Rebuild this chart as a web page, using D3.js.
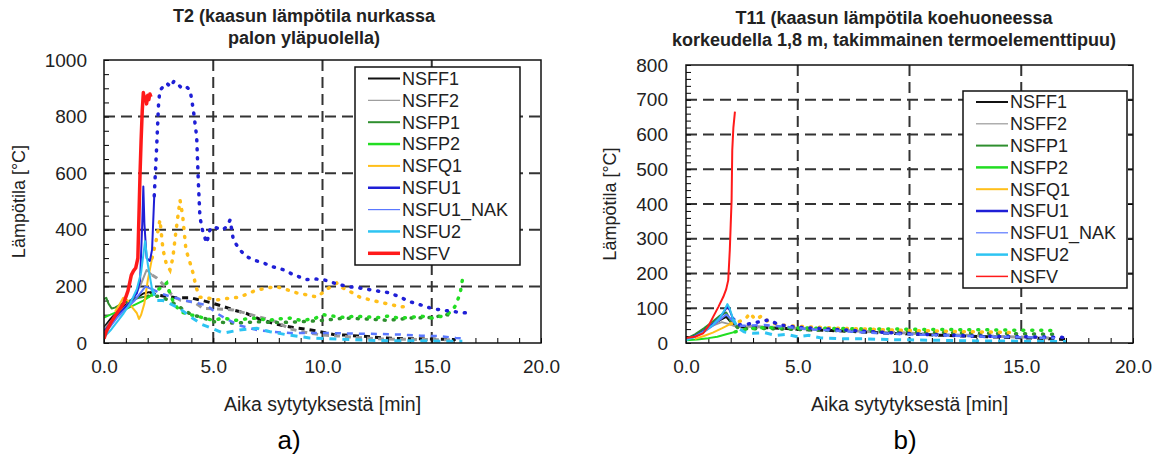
<!DOCTYPE html>
<html><head><meta charset="utf-8">
<script src="https://cdn.jsdelivr.net/npm/d3@7"></script>
<style>
body{margin:0;background:#fff}
svg{display:block}
text{font-family:"Liberation Sans",Arial,sans-serif;fill:#222}
</style>
</head><body>
<svg id="c" width="1161" height="458"></svg>
<script>
// ---------- DATA ----------
const seriesNames = ["NSFF1","NSFF2","NSFP1","NSFP2","NSFQ1","NSFU1","NSFU1_NAK","NSFU2","NSFV"];
const xTicks = [0, 5, 10, 15, 20];
const yTicksT2 = [0, 200, 400, 600, 800, 1000];
const yTicksT11 = [0, 100, 200, 300, 400, 500, 600, 700, 800];
const titleT2 = ["T2 (kaasun lämpötila nurkassa", "palon yläpuolella)"];
const titleT11 = ["T11 (kaasun lämpötila koehuoneessa", "korkeudella 1,8 m, takimmainen termoelementtipuu)"];
const xTitle = "Aika sytytyksestä [min]";
const yTitle = "Lämpötila [°C]";
const panelLabels = ["a)", "b)"];

// T2 series: [time min, temperature °C]
const t2_NSFF1 = [[0,55],[0.3,85],[0.6,110],[1.0,135],[1.4,155],[1.8,175],[2.1,180],[2.41,170],[2.8,165],[3.3,160],[3.94,160],[4.5,150],[5.0,140],[5.5,128],[6.0,115],[6.5,105],[7.1,85],[7.9,66],[8.66,55],[9.3,48],[9.9,40],[10.5,30],[11.0,28],[11.6,25],[12.2,22],[12.8,18],[13.5,16],[14.2,15],[15.0,14],[15.6,13],[16.1,12]];
const t2_NSFF2 = [[0,50],[0.3,75],[0.6,100],[1.0,130],[1.4,165],[1.7,210],[1.95,258],[2.2,240],[2.41,230],[2.8,200],[3.1,170],[3.48,152],[4.1,145],[4.55,122],[5.2,120],[5.9,117],[6.5,105],[7.1,92],[7.9,75],[8.5,50],[9.2,38],[10.0,28],[10.7,25],[11.5,20],[12.3,16],[13.0,14],[14.0,13],[15.0,12],[16.0,11]];
const t2_NSFP1 = [[0,155],[0.1,160],[0.2,140],[0.35,122],[0.5,125],[0.8,138],[1.2,150],[1.6,160],[2.0,165],[2.5,165],[3.0,150],[3.5,125],[4.0,100],[4.5,90],[5.0,75],[6.0,70],[7.0,75],[8.0,72],[9.0,75],[10.0,80],[11.0,88],[12.0,85],[13.0,80],[14.0,88],[15.0,90],[15.7,100],[16.0,95]];
const t2_NSFP2 = [[0,90],[0.3,100],[0.6,110],[1.0,120],[1.4,135],[1.8,150],[2.2,170],[2.5,190],[2.87,212],[3.0,180],[3.2,140],[3.5,110],[3.94,100],[4.5,90],[5.0,80],[5.46,88],[6.0,80],[6.5,85],[6.99,88],[7.5,80],[8.0,85],[8.5,88],[9.0,80],[9.6,85],[10.04,100],[10.5,95],[11.0,90],[11.5,95],[12.0,92],[12.6,90],[13.0,95],[13.5,88],[14.0,90],[14.5,95],[15.0,88],[15.5,95],[15.9,110],[16.1,134],[16.3,176],[16.4,222]];
const t2_NSFQ1 = [[0.5,110],[0.7,135],[0.88,160],[1.1,150],[1.3,125],[1.5,106],[1.6,85],[1.7,100],[1.85,140],[2.0,220],[2.2,300],[2.41,370],[2.56,435],[2.7,330],[2.85,280],[3.02,258],[3.15,300],[3.3,400],[3.48,505],[3.6,450],[3.75,330],[3.94,283],[4.1,240],[4.2,200],[4.39,162],[4.7,160],[5.16,152],[5.7,158],[6.22,162],[6.6,175],[6.99,187],[7.5,195],[7.9,199],[8.3,190],[8.82,177],[9.3,170],[9.75,162],[10.2,190],[10.65,212],[10.8,199],[11.2,185],[11.7,162],[12.3,150],[12.8,141],[13.2,135],[13.5,127],[13.7,128]];
const t2_NSFU1 = [[0,40],[0.3,70],[0.6,95],[0.9,120],[1.2,145],[1.5,175],[1.65,220],[1.75,420],[1.8,553],[1.85,420],[1.95,300],[2.1,290],[2.2,330],[2.3,520],[2.41,693],[2.5,850],[2.56,893],[2.7,905],[2.87,918],[3.05,905],[3.2,925],[3.33,918],[3.5,905],[3.7,910],[3.94,894],[4.09,823],[4.24,730],[4.32,565],[4.39,446],[4.5,400],[4.7,353],[4.85,400],[5.0,412],[5.2,405],[5.46,400],[5.65,415],[5.77,435],[5.92,365],[6.2,330],[6.53,305],[6.9,292],[7.29,283],[7.7,270],[8.2,259],[8.7,240],[9.28,224],[9.7,226],[10.04,224],[10.6,210],[11.1,200],[11.7,194],[12.4,185],[13.1,177],[13.6,160],[14.0,146],[14.6,132],[15.0,122],[15.4,117],[16.1,110],[16.6,106],[16.8,104]];
const t2_NSFU1_NAK = [[0,35],[0.3,60],[0.6,90],[1.0,120],[1.4,150],[1.7,180],[1.9,200],[2.2,190],[2.6,175],[3.0,165],[3.5,155],[4.0,145],[4.7,134],[5.16,105],[5.6,85],[6.2,62],[7.0,46],[7.7,40],[8.5,35],[9.3,35],[10.5,35],[11.5,33],[12.6,32],[13.5,30],[14.5,26],[15.4,24],[16.1,18],[16.6,16]];
const t2_NSFU2 = [[0,20],[0.3,45],[0.6,75],[0.9,105],[1.2,140],[1.5,190],[1.7,250],[1.88,360],[2.0,280],[2.2,190],[2.4,150],[2.7,150],[3.0,140],[3.5,120],[4.0,90],[4.5,65],[4.93,52],[5.46,35],[6.2,46],[7.0,52],[7.6,40],[8.3,30],[9.4,18],[10.3,15],[11.2,12],[12.0,10],[13.0,8],[14.0,8],[15.0,7],[16.0,6],[16.4,6]];
const t2_NSFV = [[0,15],[0.1,40],[0.3,70],[0.5,95],[0.7,118],[0.9,140],[1.1,185],[1.25,240],[1.35,255],[1.45,265],[1.55,300],[1.6,450],[1.65,600],[1.7,720],[1.75,820],[1.8,885],[1.85,860],[1.9,870],[1.95,845],[2.0,875],[2.05,860],[2.1,880],[2.15,870]];

// T11 series
const t11_NSFF1 = [[0,10],[0.4,20],[0.8,35],[1.2,52],[1.5,65],[1.8,75],[2.0,60],[2.3,47],[2.8,45],[3.5,44],[4.5,42],[5.5,38],[6.5,36],[7.5,33],[8.5,30],[9.5,27],[10.5,25],[11.5,22],[12.5,20],[13.5,18],[14.5,16],[15.5,14],[16.3,12],[17.0,10]];
const t11_NSFF2 = [[0,12],[0.4,22],[0.8,36],[1.2,50],[1.6,60],[1.9,55],[2.2,48],[2.8,48],[3.5,46],[4.5,44],[5.5,40],[6.5,38],[7.5,35],[8.5,32],[9.5,30],[10.5,27],[11.5,24],[12.5,22],[13.5,20],[14.5,18],[15.5,16],[16.5,14]];
const t11_NSFP1 = [[0,12],[0.4,25],[0.8,42],[1.2,62],[1.5,78],[1.8,88],[2.0,65],[2.3,45],[2.8,40],[3.5,42],[4.5,40],[5.5,38],[6.5,36],[7.5,35],[8.5,33],[9.5,32],[10.5,31],[11.5,30],[12.5,29],[13.5,28],[14.5,27],[15.5,26],[16.5,25]];
const t11_NSFP2 = [[0,8],[0.5,10],[1.0,14],[1.4,18],[1.8,25],[2.2,32],[2.6,38],[3.0,42],[3.5,44],[4.5,44],[5.5,43],[6.5,42],[7.5,41],[8.5,40],[9.5,40],[10.5,39],[11.5,39],[12.5,38],[13.5,38],[14.5,37],[15.5,37],[16.5,36]];
const t11_NSFQ1 = [[0.4,12],[0.8,20],[1.2,30],[1.6,42],[2.0,55],[2.4,62],[2.7,72],[2.86,86],[3.1,68],[3.4,78],[3.7,60],[4.2,52],[5.0,48],[6.0,45],[7.0,42],[8.0,40],[9.0,38],[10.0,36],[11.0,35],[12.0,33],[13.0,32],[14.0,31],[14.6,30]];
const t11_NSFU1 = [[0,10],[0.4,20],[0.8,35],[1.2,55],[1.5,72],[1.7,90],[1.85,105],[1.95,95],[2.1,70],[2.4,52],[2.8,55],[3.2,60],[3.68,66],[4.2,52],[5.0,45],[6.0,42],[7.0,38],[8.0,34],[9.0,30],[10.0,27],[11.0,24],[12.0,22],[13.0,20],[14.0,19],[15.0,18],[16.0,17],[17.0,16]];
const t11_NSFU1_NAK = [[0,10],[0.4,18],[0.8,32],[1.2,50],[1.5,66],[1.8,82],[2.0,70],[2.3,50],[2.8,50],[3.5,52],[4.5,46],[5.5,40],[6.5,36],[7.5,32],[8.5,29],[9.5,26],[10.5,24],[11.5,22],[12.5,20],[13.5,18],[14.5,17],[15.5,16],[16.5,14]];
const t11_NSFU2 = [[0,8],[0.4,18],[0.8,32],[1.2,52],[1.5,72],[1.7,92],[1.85,112],[1.95,100],[2.1,70],[2.3,45],[2.6,32],[3.0,28],[3.5,30],[4.0,22],[4.5,25],[5.0,18],[5.5,22],[6.0,15],[7.0,12],[8.0,12],[9.0,10],[10.0,9],[11.0,8],[12.0,7],[13.0,6],[14.0,6],[15.0,5],[16.0,5],[17.0,4]];
const t11_NSFV = [[0,14],[0.4,18],[0.77,28],[1.0,48],[1.22,76],[1.45,104],[1.67,133],[1.8,155],[1.89,181],[1.96,268],[2.0,340],[2.04,411],[2.07,555],[2.12,620],[2.19,666]];

const dataT2 = {NSFF1:t2_NSFF1,NSFF2:t2_NSFF2,NSFP1:t2_NSFP1,NSFP2:t2_NSFP2,NSFQ1:t2_NSFQ1,NSFU1:t2_NSFU1,NSFU1_NAK:t2_NSFU1_NAK,NSFU2:t2_NSFU2,NSFV:t2_NSFV};
const dataT11 = {NSFF1:t11_NSFF1,NSFF2:t11_NSFF2,NSFP1:t11_NSFP1,NSFP2:t11_NSFP2,NSFQ1:t11_NSFQ1,NSFU1:t11_NSFU1,NSFU1_NAK:t11_NSFU1_NAK,NSFU2:t11_NSFU2,NSFV:t11_NSFV};

// ---------- STYLES ----------
const colors = {NSFF1:"#111111",NSFF2:"#9a9a9a",NSFP1:"#2f8f2f",NSFP2:"#22dd22",NSFQ1:"#ffbf1a",NSFU1:"#1f1fd6",NSFU1_NAK:"#5a78ff",NSFU2:"#2ec4f2",NSFV:"#ff1a1a"};
const tailStyle = {
  NSFF1:{dash:"6,5",w:3,cap:"butt"}, NSFF2:{dash:"6,5",w:3,cap:"butt"},
  NSFP1:{dash:"1,8",w:3.5,cap:"round"}, NSFP2:{dash:"1,8",w:3.5,cap:"round"},
  NSFQ1:{dash:"1,8",w:3.5,cap:"round"}, NSFU1:{dash:"1,8",w:3.5,cap:"round"},
  NSFU1_NAK:{dash:"6,6",w:2.5,cap:"butt"}, NSFU2:{dash:"7,6",w:3,cap:"butt"},
  NSFV:{dash:null,w:3,cap:"round"}
};

const svg = d3.select("#c");

function drawChart(cfg) {
  const x = d3.scaleLinear().domain([0,20]).range([cfg.left, cfg.right]);
  const y = d3.scaleLinear().domain([0,cfg.yMax]).range([cfg.bottom, cfg.top]);
  const g = svg.append("g");
  const id = "clip" + cfg.key;
  svg.append("clipPath").attr("id", id).append("rect")
    .attr("x", cfg.left).attr("y", cfg.top).attr("width", cfg.right-cfg.left).attr("height", cfg.bottom-cfg.top);

  // gridlines
  const gy = cfg.yTicks.filter(v => v>0 && v<cfg.yMax);
  g.selectAll(".gy").data(gy).join("line")
    .attr("x1", cfg.left).attr("x2", cfg.right).attr("y1", d=>y(d)).attr("y2", d=>y(d))
    .attr("stroke","#333").attr("stroke-width",2).attr("stroke-dasharray","11,6");
  g.selectAll(".gx").data(xTicks.filter(v=>v>0&&v<20)).join("line")
    .attr("y1", cfg.top).attr("y2", cfg.bottom).attr("x1", d=>x(d)).attr("x2", d=>x(d))
    .attr("stroke","#333").attr("stroke-width",2).attr("stroke-dasharray","11,6");

  // minor ticks
  const yMinor = d3.range(0, cfg.yMax+0.001, cfg.yMinorStep);
  g.append("g").attr("transform",`translate(${cfg.left},0)`)
    .call(d3.axisLeft(y).tickValues(yMinor).tickSize(-5).tickFormat(""))
    .call(s=>s.select(".domain").remove());
  g.append("g").attr("transform",`translate(0,${cfg.bottom})`)
    .call(d3.axisBottom(x).tickValues(d3.range(0,21,1)).tickSize(-5).tickFormat(""))
    .call(s=>s.select(".domain").remove());
  if (cfg.rightTicks) {
    g.append("g").attr("transform",`translate(${cfg.right},0)`)
      .call(d3.axisRight(y).tickValues(cfg.yTicks).tickSize(-5).tickFormat(""))
      .call(s=>s.select(".domain").remove());
  }
  // major labels
  const ya = g.append("g").attr("transform",`translate(${cfg.left},0)`)
    .call(d3.axisLeft(y).tickValues(cfg.yTicks).tickSize(0).tickPadding(cfg.left - cfg.yLabelRight).tickFormat(d3.format("d")));
  ya.select(".domain").remove();
  ya.selectAll("text").style("font-size","19px").attr("fill","#222");
  const xa = g.append("g").attr("transform",`translate(0,${cfg.bottom})`)
    .call(d3.axisBottom(x).tickValues(xTicks).tickSize(0).tickPadding(17).tickFormat(d3.format(".1f")));
  xa.select(".domain").remove();
  xa.selectAll("text").style("font-size","19px").attr("fill","#222");

  // data
  const line = d3.line().x(d=>x(d[0])).y(d=>y(d[1]));
  const dg = g.append("g").attr("clip-path",`url(#${id})`);
  seriesNames.forEach(name => {
    const pts = cfg.data[name];
    const st = tailStyle[name];
    const col = colors[name];
    if (name === "NSFV") {
      dg.append("path").attr("d", line(pts)).attr("fill","none").attr("stroke",col)
        .attr("stroke-width", cfg.redWidth).attr("stroke-linejoin","round");
      return;
    }
    const head = pts.filter(p => p[0] <= cfg.split);
    const tail = pts.filter(p => p[0] >= (head.length ? head[head.length-1][0] : 0));
    if (head.length > 1) {
      dg.append("path").attr("d", line(head)).attr("fill","none").attr("stroke",col)
        .attr("stroke-width",2).attr("stroke-linejoin","round");
    }
    if (tail.length > 1) {
      dg.append("path").attr("d", line(tail)).attr("fill","none").attr("stroke",col)
        .attr("stroke-width",st.w).attr("stroke-dasharray",st.dash).attr("stroke-linecap",st.cap);
    }
  });

  // frame
  g.append("rect").attr("x",cfg.left).attr("y",cfg.top).attr("width",cfg.right-cfg.left).attr("height",cfg.bottom-cfg.top)
    .attr("fill","none").attr("stroke","#111").attr("stroke-width",1.5);

  // legend
  const L = cfg.legend;
  const lg = g.append("g");
  lg.append("rect").attr("x",L.x).attr("y",L.y).attr("width",L.w).attr("height",L.h)
    .attr("fill","#fff").attr("stroke","#111").attr("stroke-width",1.5);
  seriesNames.forEach((name,i) => {
    const yy = L.y + L.first + i*L.step;
    lg.append("line").attr("x1",L.x+13).attr("x2",L.x+45).attr("y1",yy).attr("y2",yy)
      .attr("stroke",colors[name]).attr("stroke-width",cfg.legendWidths[name]);
    lg.append("text").attr("x",L.x+47).attr("y",yy).attr("dy","0.35em")
      .style("font-size","18px").text(name);
  });

  // titles
  cfg.title.forEach((t,i) => {
    g.append("text").attr("x",cfg.titleX).attr("y",cfg.titleY + i*cfg.titleStep)
      .attr("text-anchor","middle").style("font-size","18px").style("font-weight","bold").text(t);
  });
  g.append("text").attr("x",(cfg.left+cfg.right)/2).attr("y",404).attr("dy","0.35em")
    .attr("text-anchor","middle").style("font-size","19.5px").text(xTitle);
  g.append("text").attr("transform",`translate(${cfg.yTitleX},${(cfg.top+cfg.bottom)/2}) rotate(-90)`)
    .attr("dy","0.35em").attr("text-anchor","middle").style("font-size","18px").text(yTitle);
  g.append("text").attr("x",cfg.panelX).attr("y",440).attr("dy","0.35em")
    .attr("text-anchor","middle").style("font-size","26px").style("fill","#000").text(cfg.panel);
}

const legendWidthsT2 = {NSFF1:2,NSFF2:1.2,NSFP1:2,NSFP2:2.5,NSFQ1:2,NSFU1:2.5,NSFU1_NAK:1.2,NSFU2:2.5,NSFV:3.5};
const legendWidthsT11 = {NSFF1:2,NSFF2:1.2,NSFP1:2,NSFP2:2.5,NSFQ1:2,NSFU1:2.5,NSFU1_NAK:1.2,NSFU2:2.5,NSFV:1.5};

drawChart({key:"a", left:104, right:541, top:60, bottom:343, yMax:1000, yTicks:yTicksT2, yMinorStep:50,
  yLabelRight:87, data:dataT2, split:2.3, redWidth:3.5, rightTicks:false,
  legend:{x:355,y:67,w:165,h:198,first:11.5,step:21.85}, legendWidths:legendWidthsT2,
  title:titleT2, titleX:304, titleY:22, titleStep:22, yTitleX:19, panelX:289, panel:panelLabels[0]});

drawChart({key:"b", left:686, right:1133, top:65, bottom:343, yMax:800, yTicks:yTicksT11, yMinorStep:20,
  yLabelRight:668, data:dataT11, split:2.2, redWidth:2, rightTicks:true,
  legend:{x:963,y:91,w:164,h:197,first:11,step:21.8}, legendWidths:legendWidthsT11,
  title:titleT11, titleX:894, titleY:24, titleStep:22, yTitleX:610, panelX:905, panel:panelLabels[1]});
</script>
</body></html>
